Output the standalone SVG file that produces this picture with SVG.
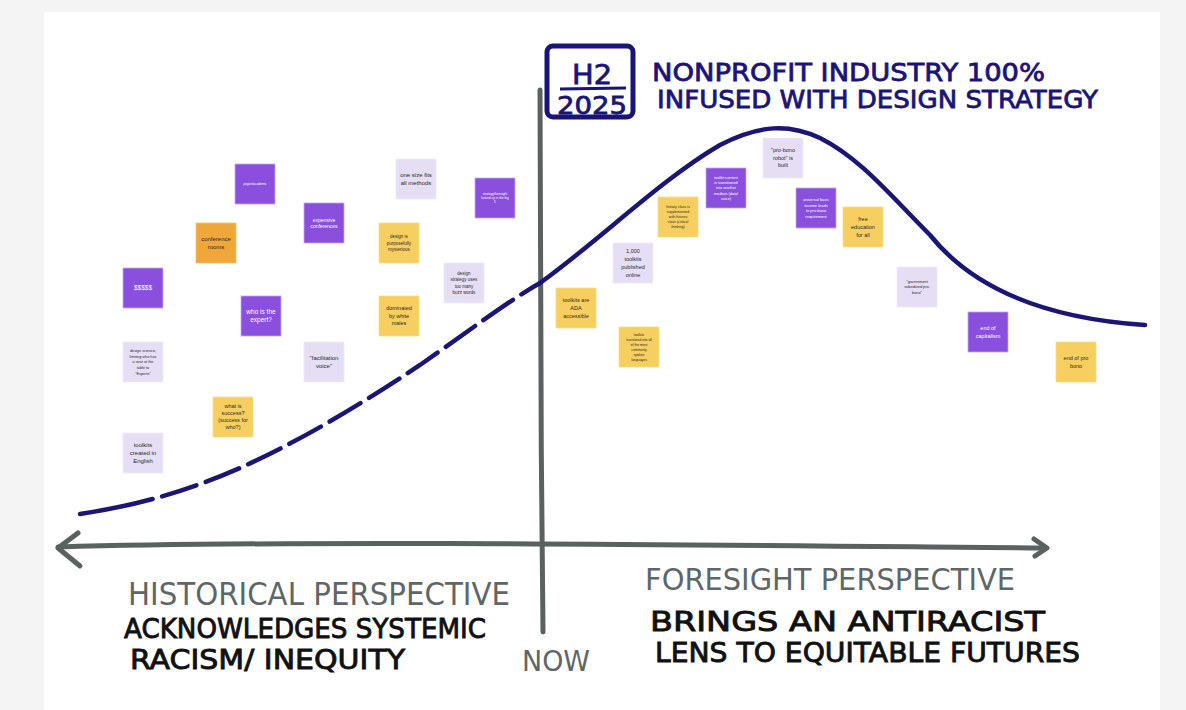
<svg xmlns="http://www.w3.org/2000/svg" width="1186" height="710" viewBox="0 0 1186 710">
<style>
.n rect{stroke-width:0.8}
.p rect{fill:#8a4fdc;stroke:#c3a9f2}
.l rect{fill:#e6def4;stroke:#efe9f8}
.y rect{fill:#f7cf60;stroke:#fadc8c}
.o rect{fill:#f0a73a;stroke:#f5c070}
.n text{font-family:"Liberation Sans",Arial,sans-serif;text-anchor:middle}
.p text{fill:#ffffff}
.l text,.y text,.o text{fill:#2a2a2a}
.hand{font-family:"DejaVu Sans","Liberation Sans",sans-serif;font-weight:normal}
.gray{fill:#5e6666}
.blk{fill:#111111;stroke:#111111;stroke-width:0.9}
.navy{fill:#1b1478;stroke:#1b1478;stroke-width:0.8}
.ax{fill:none;stroke:#5a6161;stroke-width:5;stroke-linecap:round;stroke-linejoin:round}
.cv{fill:none;stroke:#1b1574;stroke-width:4.5;stroke-linecap:round}
</style>
<rect x="0" y="0" width="1186" height="710" fill="#f4f4f4"/>
<rect x="44" y="12" width="1116" height="698" fill="#ffffff"/>

<g id="connectors">
  <path class="ax" d="M540,90 C540,300 541,450 543,632"/>
  <path class="ax" d="M58,547 C300,540 700,545 1046,548"/>
  <path class="ax" d="M78,533 L58,548 L80,566"/>
  <path class="ax" d="M1034,539 L1047,548 L1035,556"/>
  <path class="cv" d="M80,514 C140,505 190,490 240,468 C300,441 360,405 420,365 C470,330 510,300 540,283" stroke-dasharray="74 10 36 10 36 10 36 10 36 10 36 10 36 10 36 10 36 10 36 10 36 10 36 10 36 10 36 10" stroke-linecap="butt"/>
  <path class="cv" d="M540,283 C600,240 660,180 720,145 C760,124 790,124 820,138 C860,158 890,195 930,235 C970,285 1040,318 1145,325"/>
</g>

<g id="header">
  <rect x="547" y="46" width="86" height="71" rx="6" fill="none" stroke="#1b1478" stroke-width="5"/>
  <text class="hand navy" x="592" y="84" font-size="27" text-anchor="middle" textLength="40" lengthAdjust="spacingAndGlyphs">H2</text>
  <path d="M560,89 L626,88" stroke="#1b1478" stroke-width="3" fill="none"/>
  <text class="hand navy" x="592" y="114" font-size="25" text-anchor="middle" textLength="70" lengthAdjust="spacingAndGlyphs">2025</text>
  <text class="hand navy" x="652" y="81" font-size="25" textLength="393" lengthAdjust="spacingAndGlyphs">NONPROFIT INDUSTRY 100%</text>
  <text class="hand navy" x="657" y="108" font-size="25" textLength="441" lengthAdjust="spacingAndGlyphs">INFUSED WITH DESIGN STRATEGY</text>
</g>

<g id="labels">
  <text class="hand gray" x="128" y="605" font-size="32" textLength="382" lengthAdjust="spacingAndGlyphs">HISTORICAL PERSPECTIVE</text>
  <text class="hand blk" x="124" y="638" font-size="27" textLength="362" lengthAdjust="spacingAndGlyphs">ACKNOWLEDGES SYSTEMIC</text>
  <text class="hand blk" x="130" y="669" font-size="27" textLength="275" lengthAdjust="spacingAndGlyphs">RACISM/ INEQUITY</text>
  <text class="hand gray" x="522" y="671" font-size="28" textLength="68" lengthAdjust="spacingAndGlyphs">NOW</text>
  <text class="hand gray" x="645" y="590" font-size="30" textLength="370" lengthAdjust="spacingAndGlyphs">FORESIGHT PERSPECTIVE</text>
  <text class="hand blk" x="650" y="631" font-size="27" textLength="395" lengthAdjust="spacingAndGlyphs">BRINGS AN ANTIRACIST</text>
  <text class="hand blk" x="655" y="662" font-size="27" textLength="425" lengthAdjust="spacingAndGlyphs">LENS TO EQUITABLE FUTURES</text>
</g>

<g id="n1" class="n p"><rect x="235" y="164" width="40" height="40"/><text x="255" y="185.1" font-size="3.2">jargon/academic</text></g>
<g id="n2" class="n o"><rect x="196" y="223" width="40" height="40"/><text x="216" font-size="6"><tspan x="216" y="241.4">conference</tspan><tspan x="216" y="248.9">rooms</tspan></text></g>
<g id="n3" class="n p"><rect x="123" y="268" width="40" height="40"/><text x="143" y="290.3" font-size="6.5">$$$$$</text></g>
<g id="n4" class="n p"><rect x="241" y="296" width="40" height="40"/><text font-size="6.5"><tspan x="261" y="314.3">who is the</tspan><tspan x="261" y="322.3">expert?</tspan></text></g>
<g id="n5" class="n l"><rect x="123" y="342" width="40" height="40"/><text font-size="3.8"><tspan x="143" y="351.7">design science,</tspan><tspan x="143" y="357.5">limiting who has</tspan><tspan x="143" y="363.3">a seat at the</tspan><tspan x="143" y="369.1">table to</tspan><tspan x="143" y="374.9">"Experts"</tspan></text></g>
<g id="n6" class="n l"><rect x="304" y="342" width="40" height="40"/><text font-size="6"><tspan x="324" y="360.4">"facilitation</tspan><tspan x="324" y="367.9">voice"</tspan></text></g>
<g id="n7" class="n y"><rect x="213" y="397" width="40" height="40"/><text font-size="5.5"><tspan x="233" y="408.4">what is</tspan><tspan x="233" y="415.4">success?</tspan><tspan x="233" y="422.4">(success for</tspan><tspan x="233" y="429.4">who?)</tspan></text></g>
<g id="n8" class="n l"><rect x="123" y="433" width="40" height="40"/><text font-size="6"><tspan x="143" y="447.1">toolkits</tspan><tspan x="143" y="455.1">created in</tspan><tspan x="143" y="463.1">English</tspan></text></g>
<g id="n9" class="n l"><rect x="396" y="159" width="40" height="40"/><text font-size="6"><tspan x="416" y="177.1">one size fits</tspan><tspan x="416" y="185.1">all methods</tspan></text></g>
<g id="n10" class="n p"><rect x="475" y="178" width="40" height="40"/><text font-size="3.2"><tspan x="495" y="194.9">strategy/foresight</tspan><tspan x="495" y="199.1">locked up in the big</tspan><tspan x="495" y="203.3">5</tspan></text></g>
<g id="n11" class="n p"><rect x="304" y="203" width="40" height="40"/><text font-size="5"><tspan x="324" y="221.5">expensive</tspan><tspan x="324" y="228">conferences</tspan></text></g>
<g id="n12" class="n y"><rect x="379" y="223" width="40" height="40"/><text font-size="4.5"><tspan x="399" y="238.1">design is</tspan><tspan x="399" y="244.6">purposefully</tspan><tspan x="399" y="251.1">mysterious</tspan></text></g>
<g id="n13" class="n l"><rect x="444" y="263" width="40" height="40"/><text font-size="4.5"><tspan x="464" y="274.9">design</tspan><tspan x="464" y="281.4">strategy uses</tspan><tspan x="464" y="287.9">too many</tspan><tspan x="464" y="294.4">buzz words</tspan></text></g>
<g id="n14" class="n y"><rect x="379" y="296" width="40" height="40"/><text font-size="5.5"><tspan x="399" y="310.4">dominated</tspan><tspan x="399" y="317.9">by white</tspan><tspan x="399" y="325.4">males</tspan></text></g>
<g id="n15" class="n p"><rect x="706" y="168" width="40" height="40"/><text font-size="3.8"><tspan x="726" y="178.7">toolkit content</tspan><tspan x="726" y="184">is transitioned</tspan><tspan x="726" y="189.3">into another</tspan><tspan x="726" y="194.6">medium (data/</tspan><tspan x="726" y="199.9">voice)</tspan></text></g>
<g id="n16" class="n y"><rect x="658" y="197" width="40" height="40"/><text font-size="3.6"><tspan x="678" y="208.3">history class is</tspan><tspan x="678" y="213.3">supplemented</tspan><tspan x="678" y="218.3">with futures</tspan><tspan x="678" y="223.3">class (critical</tspan><tspan x="678" y="228.3">thinking)</tspan></text></g>
<g id="n17" class="n l"><rect x="613" y="243" width="40" height="40"/><text font-size="5.5"><tspan x="633" y="252.9">1,000</tspan><tspan x="633" y="260.9">toolkits</tspan><tspan x="633" y="268.9">published</tspan><tspan x="633" y="276.9">online</tspan></text></g>
<g id="n18" class="n y"><rect x="556" y="288" width="40" height="40"/><text font-size="5.5"><tspan x="576" y="301.9">toolkits are</tspan><tspan x="576" y="309.9">ADA</tspan><tspan x="576" y="317.9">accessible</tspan></text></g>
<g id="n19" class="n y"><rect x="619" y="327" width="40" height="40"/><text font-size="3.4"><tspan x="639" y="336">toolkits</tspan><tspan x="639" y="340.9">translated into all</tspan><tspan x="639" y="345.8">of the most</tspan><tspan x="639" y="350.7">commonly</tspan><tspan x="639" y="355.6">spoken</tspan><tspan x="639" y="360.5">languages</tspan></text></g>
<g id="n20" class="n l"><rect x="763" y="138" width="40" height="40"/><text font-size="5.5"><tspan x="783" y="152.4">"pro-bono</tspan><tspan x="783" y="159.9">robot" is</tspan><tspan x="783" y="167.4">built</tspan></text></g>
<g id="n21" class="n p"><rect x="796" y="188" width="40" height="40"/><text font-size="4"><tspan x="816" y="201">universal basic</tspan><tspan x="816" y="206.6">income leads</tspan><tspan x="816" y="212.2">to pro bono</tspan><tspan x="816" y="217.8">requirement</tspan></text></g>
<g id="n22" class="n y"><rect x="843" y="207" width="40" height="40"/><text font-size="5.5"><tspan x="863" y="220.9">free</tspan><tspan x="863" y="228.9">education</tspan><tspan x="863" y="236.9">for all</tspan></text></g>
<g id="n23" class="n l"><rect x="897" y="267" width="40" height="40"/><text font-size="3.8"><tspan x="917" y="283">"government</tspan><tspan x="917" y="288.3">subsidized pro-</tspan><tspan x="917" y="293.6">bono"</tspan></text></g>
<g id="n24" class="n p"><rect x="968" y="312" width="40" height="40"/><text font-size="5.5"><tspan x="988" y="329.9">end of</tspan><tspan x="988" y="337.9">capitalism</tspan></text></g>
<g id="n25" class="n y"><rect x="1056" y="342" width="40" height="40"/><text font-size="5.5"><tspan x="1076" y="360.2">end of pro</tspan><tspan x="1076" y="367.7">bono</tspan></text></g>
</svg>
